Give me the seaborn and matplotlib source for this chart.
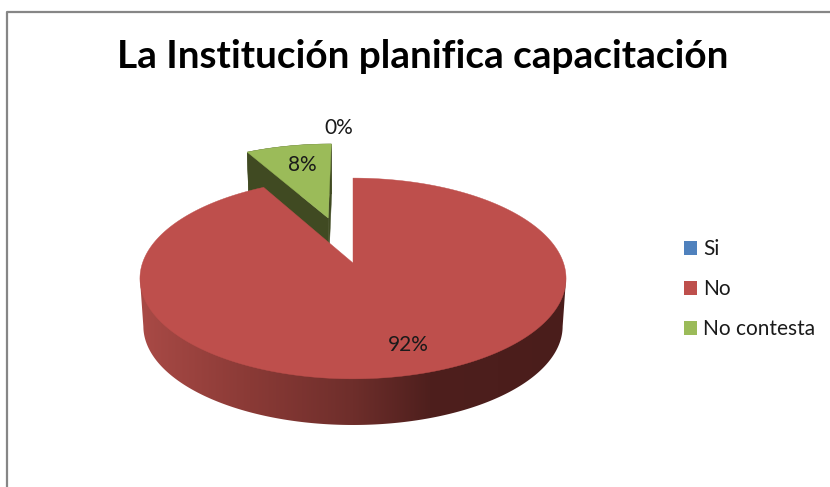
import numpy as np
import matplotlib
matplotlib.use("Agg")
import matplotlib.pyplot as plt
from matplotlib.colors import to_rgb
from matplotlib.lines import Line2D
from matplotlib.patches import Patch, Polygon
import seaborn as sns

# Survey shares
categories = ["Si", "No", "No contesta"]
percentages = [0, 92, 8]
chart_title = "La Institución planifica capacitación"

sns.set_theme(style="white")
plt.rcParams["font.family"] = ["Lato", "DejaVu Sans"]

palette = sns.color_palette(["#4F81BD", "#BE4F4C", "#9BBB59"])
GREEN_WALL = "#404A22"
RED_WALL_X = [140, 250, 353, 430, 566]
RED_WALL_RGB = np.array([to_rgb(c) for c in ["#A94A46", "#8A3A36", "#6E2E2B", "#4E1F1D", "#4A1D1B"]])

# Perspective projection of the pie plane onto the canvas
CX, CY, AX_X, AX_Y, TILT = 353.0, 263.0, 210.5, 98.0, 0.154
DROP, SHRINK = 48.0, 0.984
EXPLODE = {"No contesta": 0.51}
# Rim angles between which the side of the pie faces the viewer
FRONT_START, FRONT_END = 99.0, 261.0


def project(px, py, lower=False):
    w = 1 + TILT * py
    sx, sy = AX_X * px / w, AX_Y * py / w
    if lower:
        return CX + sx * SHRINK, CY - sy * SHRINK + DROP
    return CX + sx, CY - sy


def rim(a0, a1, n):
    t = np.radians(np.linspace(a0, a1, n))
    return np.sin(t), np.cos(t)


fig = plt.figure(figsize=(8.3, 4.87), dpi=100)
ax = fig.add_axes([0, 0, 1, 1])
ax.axis("off")

# Chart frame
ax.add_line(Line2D([7, 7, 830], [487, 12, 12], color="#868686", lw=1.6))

total = sum(percentages)
start = 0.0
placed = {}
for name, value in zip(categories, percentages):
    placed[name] = (start, start + 360.0 * value / total)
    start += 360.0 * value / total

# Horizontal shading used on the side of the large slice
shade_x = np.arange(130, 577)
shade = np.column_stack([np.interp(shade_x, RED_WALL_X, RED_WALL_RGB[:, c]) for c in range(3)])[None, :, :]

# The exploded slice goes first so the large slice overlaps it
draw_order = sorted(categories, key=lambda c: -EXPLODE.get(c, 0))
for layer, name in enumerate(draw_order):
    a0, a1 = placed[name]
    if a1 == a0:
        continue
    color = palette[categories.index(name)]
    off = EXPLODE.get(name, 0.0)
    mid = np.radians((a0 + a1) / 2)
    ox, oy = off * np.sin(mid), off * np.cos(mid)
    rx, ry = rim(a0, a1, 360)
    rx, ry = rx + ox, ry + oy
    z = 2 + layer * 2

    ux, uy = project(rx, ry)
    lx, ly = project(rx, ry, lower=True)
    if off > 0:
        outline = list(zip(ux, uy)) + list(zip(lx[::-1], ly[::-1]))
        ax.add_patch(Polygon(outline, fc=GREEN_WALL, ec=GREEN_WALL, lw=0.3, zorder=z))
        apex_u, apex_l = project(ox, oy), project(ox, oy, lower=True)
        for k in (0, -1):
            ax.add_patch(Polygon([apex_u, (ux[k], uy[k]), (lx[k], ly[k]), apex_l],
                                 fc=GREEN_WALL, ec=GREEN_WALL, lw=0.3, zorder=z))
    else:
        fx, fy = rim(max(a0, FRONT_START), min(a1, FRONT_END), 240)
        low_x, low_y = project(fx, fy, lower=True)
        outline = [project(fx[0], fy[0])] + list(zip(low_x, low_y)) + [project(fx[-1], fy[-1])]
        clip = Polygon(outline, fc="none", ec="none", transform=ax.transData)
        ax.add_patch(clip)
        img = ax.imshow(shade, extent=(130, 576, 440, 160), aspect="auto", zorder=z,
                        interpolation="bilinear")
        img.set_clip_path(clip)

    top = [project(ox, oy)] + list(zip(ux, uy))
    ax.add_patch(Polygon(top, closed=True, fc=color, ec=color, lw=0.3, zorder=z + 1))

ax.set_xlim(0, 830)
ax.set_ylim(487, 0)

# Value labels
label_pos = {"Si": (339, 128), "No": (408, 345), "No contesta": (302, 165)}
for name, value in zip(categories, percentages):
    x, y = label_pos[name]
    ax.text(x, y, f"{value}%", ha="center", va="center", fontsize=15, color="#1a1a1a", zorder=20)

ax.text(423, 56, chart_title, ha="center", va="center", fontsize=27.9, fontweight="bold",
        color="black", zorder=20)

handles = [Patch(fc=c, ec="none") for c in palette]
ax.legend(handles, categories, loc="upper left", bbox_to_anchor=(678 / 830, 1 - 233 / 487),
          frameon=False, fontsize=15, handlelength=0.62, handleheight=0.62, handletextpad=0.3,
          labelspacing=0.96, borderpad=0.3, borderaxespad=0, labelcolor="#1a1a1a")

fig.savefig("out.png", dpi=100)
